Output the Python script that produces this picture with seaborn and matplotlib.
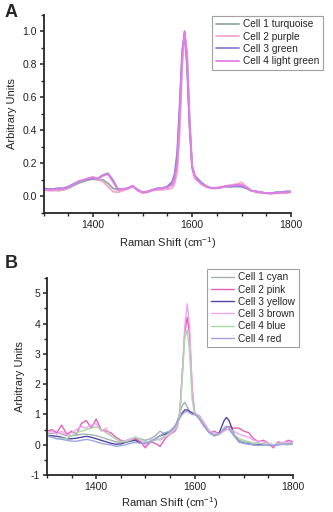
import pandas as pd
import seaborn as sns
import matplotlib.pyplot as plt
from matplotlib.ticker import MultipleLocator

# Raman shift grid (cm^-1), finer around the G band
shift = [1300, 1310, 1320, 1330, 1340, 1350, 1360, 1370, 1380, 1390,
         1400, 1410, 1420, 1430, 1440, 1450, 1460, 1470, 1480, 1490,
         1500, 1510, 1520, 1530, 1540, 1550,
         1560, 1565, 1570, 1575, 1580, 1585, 1590, 1595, 1600, 1605, 1610,
         1620, 1630, 1640, 1650, 1660, 1665, 1670,
         1680, 1690, 1700, 1710, 1720, 1730, 1740, 1750, 1760, 1770, 1780, 1790, 1800]

# ---- panel A (normalised spectra)
a_cell1 = [0.045, 0.04, 0.04, 0.035, 0.04, 0.05, 0.065, 0.08, 0.09, 0.1,
           0.105, 0.1, 0.1, 0.08, 0.05, 0.04, 0.04, 0.05, 0.06, 0.04,
           0.025, 0.03, 0.04, 0.045, 0.05, 0.06,
           0.08, 0.12, 0.24, 0.52, 0.86, 0.99, 0.8, 0.43, 0.18, 0.13, 0.11,
           0.08, 0.06, 0.05, 0.05, 0.055, 0.06, 0.06,
           0.06, 0.06, 0.06, 0.05, 0.035, 0.03, 0.025, 0.02, 0.02, 0.025, 0.025, 0.03, 0.03]
a_cell2 = [0.04, 0.035, 0.035, 0.04, 0.04, 0.055, 0.07, 0.09, 0.1, 0.11,
           0.12, 0.1, 0.09, 0.06, 0.03, 0.025, 0.035, 0.045, 0.06, 0.035,
           0.02, 0.025, 0.035, 0.04, 0.04, 0.045,
           0.05, 0.08, 0.15, 0.38, 0.78, 0.99, 0.88, 0.5, 0.17, 0.11, 0.1,
           0.07, 0.055, 0.05, 0.055, 0.06, 0.06, 0.065,
           0.07, 0.075, 0.085, 0.06, 0.035, 0.025, 0.02, 0.02, 0.015, 0.02, 0.02, 0.02, 0.025]
a_cell3 = [0.05, 0.045, 0.045, 0.05, 0.05, 0.06, 0.075, 0.09, 0.1, 0.105,
           0.11, 0.11, 0.13, 0.14, 0.1, 0.045, 0.045, 0.05, 0.065, 0.04,
           0.025, 0.03, 0.04, 0.05, 0.05, 0.06,
           0.09, 0.14, 0.27, 0.56, 0.88, 1.0, 0.78, 0.42, 0.18, 0.13, 0.11,
           0.08, 0.06, 0.05, 0.05, 0.055, 0.06, 0.06,
           0.06, 0.065, 0.06, 0.05, 0.035, 0.03, 0.025, 0.02, 0.02, 0.025, 0.025, 0.03, 0.03]
a_cell4 = [0.045, 0.04, 0.04, 0.045, 0.045, 0.055, 0.07, 0.09, 0.1, 0.11,
           0.115, 0.105, 0.125, 0.135, 0.09, 0.04, 0.045, 0.05, 0.065, 0.04,
           0.025, 0.03, 0.04, 0.045, 0.05, 0.055,
           0.07, 0.11, 0.2, 0.48, 0.85, 1.0, 0.83, 0.45, 0.19, 0.13, 0.1,
           0.075, 0.06, 0.05, 0.05, 0.055, 0.06, 0.065,
           0.065, 0.07, 0.07, 0.055, 0.035, 0.03, 0.025, 0.02, 0.02, 0.02, 0.025, 0.025, 0.03]

# ---- panel B (unnormalised spectra)
b_cell1_cyan = [0.35, 0.38, 0.4, 0.35, 0.3, 0.3, 0.32, 0.35, 0.35, 0.33,
                0.3, 0.25, 0.2, 0.15, 0.1, 0.08, 0.1, 0.15, 0.2, 0.2,
                0.15, 0.2, 0.3, 0.45, 0.35, 0.4,
                0.6, 0.8, 1.05, 1.3, 1.4, 1.25, 1.1, 1.05, 1.05, 1.0, 0.95,
                0.7, 0.45, 0.3, 0.35, 0.5, 0.52, 0.5,
                0.3, 0.15, 0.1, 0.08, 0.05, 0.05, 0.0, 0.0, -0.02, 0.0, 0.02, 0.0, 0.05]
b_cell2_pink = [0.45, 0.5, 0.4, 0.65, 0.35, 0.45, 0.35, 0.7, 0.8, 0.55,
                0.85, 0.5, 0.45, 0.4, 0.25, 0.15, 0.1, 0.15, 0.2, 0.1,
                -0.1, 0.1, 0.05, -0.05, 0.2, 0.35,
                0.45, 0.6, 1.1, 2.4, 3.7, 4.2, 3.6, 1.9, 1.05, 0.95, 0.9,
                0.65, 0.4, 0.45, 0.35, 0.5, 0.6, 0.6,
                0.55, 0.55, 0.45, 0.4, 0.2, 0.1, 0.15, 0.05, -0.1, 0.1, 0.05, 0.15, 0.1]
b_cell3_yellow = [0.3, 0.3, 0.28, 0.25, 0.2, 0.2, 0.22, 0.25, 0.28, 0.25,
                  0.2, 0.15, 0.1, 0.05, 0.02, 0.03, 0.08, 0.12, 0.15, 0.05,
                  0.05, 0.1, 0.2, 0.3, 0.35, 0.45,
                  0.6, 0.75, 0.9, 1.05, 1.15, 1.15, 1.1, 1.05, 1.0, 0.95, 0.85,
                  0.6, 0.4, 0.3, 0.4, 0.8, 0.9, 0.8,
                  0.35, 0.1, 0.05, 0.03, 0.0, 0.0, 0.02, 0.0, -0.02, 0.02, 0.02, 0.05, 0.05]
b_cell3_brown = [0.4, 0.45, 0.35, 0.45, 0.3, 0.4, 0.5, 0.6, 0.55, 0.65,
                 0.7, 0.45, 0.55, 0.3, 0.2, 0.1, 0.15, 0.2, 0.25, 0.15,
                 0.0, 0.15, 0.2, 0.15, 0.25, 0.35,
                 0.5, 0.6, 1.0, 2.3, 3.9, 4.65, 3.9, 1.8, 1.0, 1.0, 0.95,
                 0.7, 0.45, 0.4, 0.35, 0.45, 0.5, 0.5,
                 0.45, 0.35, 0.3, 0.25, 0.15, 0.12, 0.1, 0.05, 0.0, 0.05, 0.08, 0.05, 0.08]
b_cell4_blue = [0.3, 0.25, 0.2, 0.22, 0.2, 0.3, 0.4, 0.45, 0.5, 0.55,
                0.6, 0.5, 0.4, 0.3, 0.2, 0.1, 0.1, 0.15, 0.25, 0.2,
                0.1, 0.1, 0.15, 0.2, 0.3, 0.4,
                0.55, 0.7, 1.1, 2.2, 3.5, 3.8, 3.0, 1.5, 1.0, 0.95, 0.9,
                0.6, 0.4, 0.3, 0.35, 0.55, 0.62, 0.55,
                0.35, 0.2, 0.15, 0.1, 0.05, 0.05, 0.02, 0.0, 0.0, 0.02, 0.05, 0.02, 0.05]
b_cell4_red = [0.3, 0.25, 0.2, 0.18, 0.15, 0.12, 0.12, 0.15, 0.18, 0.15,
               0.1, 0.05, 0.02, 0.0, -0.05, -0.03, 0.0, 0.05, 0.08, 0.05,
               0.05, 0.1, 0.2, 0.3, 0.4, 0.45,
               0.6, 0.75, 0.9, 1.0, 1.08, 1.1, 1.05, 1.0, 1.0, 0.95, 0.85,
               0.6, 0.4, 0.3, 0.35, 0.55, 0.6, 0.55,
               0.3, 0.1, 0.05, 0.02, 0.0, -0.02, -0.02, 0.0, -0.02, 0.0, 0.02, 0.02, 0.03]

labels_a = ["Cell 1 turquoise", "Cell 2 purple", "Cell 3 green", "Cell 4 light green"]
colors_a = ["#93aaa4", "#f4a6c8", "#8b80d8", "#e47fe6"]
labels_b = ["Cell 1 cyan", "Cell 2 pink", "Cell 3 yellow", "Cell 3 brown", "Cell 4 blue", "Cell 4 red"]
colors_b = ["#a3b3b1", "#e661b4", "#4f45a3", "#f0a4f0", "#a6daa6", "#9fa4e3"]

sns.set_style("ticks")
plt.rcParams["font.family"] = ["Liberation Sans", "DejaVu Sans"]
plt.rcParams["mathtext.fontset"] = "custom"
plt.rcParams["mathtext.rm"] = "Liberation Sans"
plt.rcParams["axes.unicode_minus"] = False

df_a = pd.DataFrame(dict(zip(labels_a, [a_cell1, a_cell2, a_cell3, a_cell4])))
df_a["shift"] = shift
df_a = df_a.melt(id_vars="shift", var_name="cell", value_name="au")

df_b = pd.DataFrame(dict(zip(labels_b, [b_cell1_cyan, b_cell2_pink, b_cell3_yellow,
                                        b_cell3_brown, b_cell4_blue, b_cell4_red])))
df_b["shift"] = shift
df_b = df_b.melt(id_vars="shift", var_name="cell", value_name="au")

fig = plt.figure(figsize=(3.33, 5.12), dpi=100)
ax_a = fig.add_axes([0.131, 0.584, 0.743, 0.387])
ax_b = fig.add_axes([0.141, 0.072, 0.739, 0.385])

sns.lineplot(data=df_a, x="shift", y="au", hue="cell", hue_order=labels_a,
             palette=dict(zip(labels_a, colors_a)), estimator=None, sort=False,
             lw=1.3, ax=ax_a)
sns.lineplot(data=df_b, x="shift", y="au", hue="cell", hue_order=labels_b,
             palette=dict(zip(labels_b, colors_b)), estimator=None, sort=False,
             lw=1.0, ax=ax_b)

for ax, ylim, ymaj, ymin, anchor, xpad in [
        (ax_a, (-0.1, 1.1), 0.2, 0.1, (0.637, 0.969), 4),
        (ax_b, (-1, 5.5), 1, 0.5, (0.622, 0.475), 2)]:
    ax.set_xlim(1300, 1800)
    ax.set_ylim(*ylim)
    ax.xaxis.set_major_locator(MultipleLocator(200))
    ax.xaxis.set_minor_locator(MultipleLocator(50))
    ax.yaxis.set_major_locator(MultipleLocator(ymaj))
    ax.yaxis.set_minor_locator(MultipleLocator(ymin))
    ax.tick_params(which="major", direction="out", length=3, width=1.1, labelsize=7.5,
                   pad=2, colors="#222222")
    ax.tick_params(which="minor", direction="out", length=2, width=1.0)
    ax.set_xlabel("Raman Shift (cm$^{-1}$)", fontsize=8, labelpad=xpad)
    ax.set_ylabel("Arbitrary Units", fontsize=8, labelpad=4)
    sns.despine(ax=ax)
    for s in ["left", "bottom"]:
        ax.spines[s].set_linewidth(1.3)
    leg = ax.legend(loc="upper left", bbox_to_anchor=anchor, bbox_transform=fig.transFigure,
                    fontsize=7.3, frameon=True, fancybox=False, handlelength=2.3,
                    handletextpad=0.4, labelspacing=0.22, borderpad=0.35, borderaxespad=0)
    leg.get_frame().set_edgecolor("#8a8a8a")
    leg.get_frame().set_linewidth(0.8)

ax_a.yaxis.set_major_formatter(plt.FuncFormatter(lambda v, p: f"{v:.1f}"))

fig.text(0.015, 0.992, "A", fontsize=13, fontweight="bold", va="top")
fig.text(0.015, 0.502, "B", fontsize=13, fontweight="bold", va="top")

fig.savefig("out.png", dpi=100)
